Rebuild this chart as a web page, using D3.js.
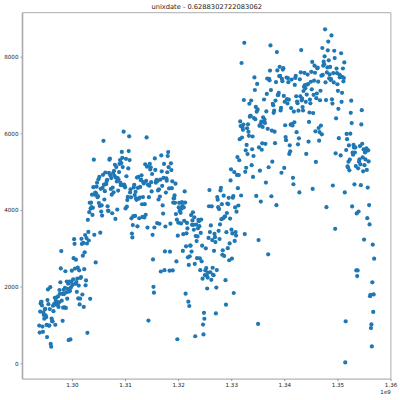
<!DOCTYPE html>
<html>
<head>
<meta charset="utf-8">
<script src="https://cdn.jsdelivr.net/npm/d3@7"></script>
<style>
  html, body { margin: 0; padding: 0; background: #fff; }
  svg text { font-family: "DejaVu Sans", sans-serif; fill: #222; }
</style>
</head>
<body>
<svg id="chart" width="400" height="400"></svg>
<script>
// ---- data: daily counts, one array per month ----
const startDate = "2011-01-01";
const cnt2011 = [
  [985,801,1349,1562,1600,1606,1510,959,822,1321,1263,1162,1406,1421,1248,1204,1000,683,1650,1927,1543,981,986,1416,1985,506,431,1167,1098,1096,1501],
  [1360,1526,1550,1708,1005,1623,1712,1530,1605,1538,1746,1472,1589,1913,1815,2115,2475,2927,1635,1812,1107,1450,1917,1807,1461,1969,2402,1446],
  [1851,2134,1685,1944,2077,605,1872,2133,1891,623,1977,2132,2417,2046,2056,2192,2744,3239,3117,2471,2077,2703,2121,1865,2210,2496,1693,2028,2425,1536,1685],
  [2227,2252,3249,3115,1795,2808,3141,1471,2455,2895,3348,2034,2162,3267,3126,795,3744,3429,3204,3944,4189,1683,4036,4191,4073,4400,3872,4058,4595,5312],
  [3351,4401,4451,2633,4433,4608,4714,4333,4362,4803,4182,4864,4105,3409,4553,3958,4123,3855,4575,4917,5805,4660,4274,4492,4978,4677,4679,4758,4788,4098,3982],
  [3974,4968,5312,5342,4906,4548,4833,4401,3915,4586,4966,4460,5020,4891,5180,3767,4844,5119,4744,4010,4835,4507,4790,4991,5202,5305,4708,4648,5225,5515],
  [5362,5119,4649,6043,4665,4629,4592,4040,5336,4881,4086,4258,4342,5084,5538,5923,5302,4458,4541,4332,3784,3387,3285,3606,3840,4590,4656,4390,3846,4475,4302],
  [4266,4845,3574,4576,4866,4294,3785,4326,4602,4780,4792,4905,4150,3820,4338,4725,4694,3805,4153,5191,3873,4758,5895,5130,3542,4661,1115,4334,4634,5204,5058],
  [5115,4727,4484,4940,3351,2710,1996,1842,3544,5345,5046,4713,4763,4785,3659,4760,4511,4274,4539,3641,4352,4795,2395,5423,5010,4630,4120,3907,4839,5202],
  [2429,2918,3570,4456,4826,4765,4985,5409,5511,5117,4563,2416,2913,3644,5217,5041,4570,4748,2424,4195,4304,4308,4381,4187,4687,3894,2659,3747,627,3331,3669],
  [4068,4186,3974,4046,3926,3649,4035,4205,4109,2933,3368,4067,3717,4486,4195,1817,3053,3392,3663,3520,2765,1607,2566,1495,2792,3068,3071,3867,2914,3613],
  [3727,3940,3614,3485,3811,2594,705,3322,3620,3190,2743,3310,3523,3740,3709,3577,2739,2431,3403,3750,2660,3068,2209,1011,754,1317,1162,2302,2423,2999,2485]
];
const cnt2012 = [
  [2294,1951,2236,2368,3272,4098,4521,3425,2376,3598,2177,4097,3214,2493,2311,2298,2935,3376,3292,3163,1301,1977,2432,4339,4270,4075,3456,4023,3243,3624,4509],
  [4579,3761,4151,2832,2947,3784,4375,2802,3830,3831,2169,1529,3422,3922,4169,3005,4154,4318,2689,3129,3777,4773,5062,3487,2732,3389,4322,4363,1834],
  [4990,3194,4066,3423,3333,3956,4916,5382,4569,4118,4911,5298,5847,6312,6192,4378,7836,5892,6153,6093,6230,6871,8362,3372,4996,5558,5102,5698,6133,5459,6235],
  [6041,5936,6772,6436,6457,6460,6857,5169,5585,5918,4862,5409,6398,7460,7132,6370,6691,4367,6565,7290,6624,1027,3214,5633,6196,5026,6233,4220,6304,5572],
  [5740,6169,6421,6296,6883,6359,6273,5728,4717,6572,7030,7429,6118,2843,5115,7424,7384,7639,8294,7129,4359,6073,5260,6770,6734,6536,6591,6043,5743,6855,7338],
  [4127,8120,7641,6998,7001,7055,7494,7736,7498,6598,6664,4972,7421,7363,7665,7702,6978,5099,6825,6211,5905,5823,7458,6891,6779,7442,7335,6879,5463,5687],
  [5531,6227,6660,7403,6241,6207,4840,4672,6569,6290,7264,7446,7499,6969,6031,6830,6786,5713,6591,5870,4459,7410,6966,7592,8173,6861,6904,6685,6597,7105,7216],
  [7580,7261,7175,6824,5464,7013,7273,7534,7286,5786,6299,6544,6883,6784,7347,7605,7148,7865,4549,6530,7006,7375,7765,7582,6053,5255,6917,7040,7697,7713,7350],
  [6140,5810,6034,6864,7112,6203,7504,5976,8227,7525,7767,7870,7804,8009,8714,7333,6869,4073,7591,7720,8167,8395,7907,7436,7538,7733,7393,7415,8555,6889],
  [6778,4639,7572,7328,8156,7965,3510,5478,6392,7691,7570,7282,7109,6639,5875,7534,7461,7509,5424,8090,6824,7058,7466,7693,7359,7444,7852,4459,22,1096,5566],
  [5986,5847,5138,5107,5259,5686,5035,5315,5992,6536,6852,6269,4094,5495,5445,5698,5629,4669,5499,5634,5146,2425,3910,2277,2424,5087,3959,5260,5323,5668],
  [5191,4649,6234,6606,5729,5375,5008,5582,3228,5170,5501,5319,5532,5611,5047,3786,4585,5557,5267,4128,3623,1749,1787,920,1013,441,2114,3095,1341,1796,2729]
];
const xTickValues = [1.30e9, 1.31e9, 1.32e9, 1.33e9, 1.34e9, 1.35e9, 1.36e9];
const xTickLabels = ["1.30", "1.31", "1.32", "1.33", "1.34", "1.35", "1.36"];
const yTickValues = [0, 2000, 4000, 6000, 8000];
const yTickLabels = ["0", "2000", "4000", "6000", "8000"];
const titleText = "unixdate - 0.6288302722083062";
const offsetText = "1e9";

// ---- build points ----
const counts = [].concat(...cnt2011, ...cnt2012);
const t0 = Date.UTC(2011, 0, 1) / 1000;
const points = counts.map((c, i) => ({ x: t0 + i * 86400, y: c }));

// ---- layout ----
const L = 22.5, R = 390.9, T = 12.7, B = 379.1;
const svg = d3.select("#chart");

const xExt = d3.extent(points, d => d.x);
const yExt = d3.extent(points, d => d.y);
const xPad = (xExt[1] - xExt[0]) * 0.05;
const yPad = (yExt[1] - yExt[0]) * 0.05;
const x = d3.scaleLinear().domain([xExt[0] - xPad, xExt[1] + xPad]).range([L, R]);
const y = d3.scaleLinear().domain([yExt[0] - yPad, yExt[1] + yPad]).range([B, T]);

// points
svg.append("g")
  .selectAll("circle")
  .data(points)
  .join("circle")
  .attr("cx", d => x(d.x))
  .attr("cy", d => y(d.y))
  .attr("r", 2.1)
  .attr("fill", "#1f77b4");

// axes
const xAxis = d3.axisBottom(x)
  .tickValues(xTickValues)
  .tickFormat((d, i) => xTickLabels[i])
  .tickSize(2)
  .tickPadding(2);
const yAxis = d3.axisLeft(y)
  .tickValues(yTickValues)
  .tickFormat((d, i) => yTickLabels[i])
  .tickSize(2)
  .tickPadding(2);

const gx = svg.append("g").attr("transform", `translate(0,${B})`).call(xAxis);
const gy = svg.append("g").attr("transform", `translate(${L},0)`).call(yAxis);
[gx, gy].forEach(g => {
  g.select(".domain").remove();
  g.selectAll(".tick line").attr("stroke", "#555").attr("stroke-width", 0.6);
  g.selectAll(".tick text").attr("font-size", 5.6).attr("fill", "#222")
    .style("font-family", "'DejaVu Sans', sans-serif");
});

// spines
svg.append("line").attr("x1", L).attr("x2", L).attr("y1", T).attr("y2", B)
  .attr("stroke", "#aaa").attr("stroke-width", 1.6);
svg.append("line").attr("x1", L).attr("x2", R).attr("y1", B).attr("y2", B)
  .attr("stroke", "#777").attr("stroke-width", 0.7);
svg.append("line").attr("x1", L).attr("x2", R).attr("y1", T).attr("y2", T)
  .attr("stroke", "#888").attr("stroke-width", 0.7);
svg.append("line").attr("x1", R).attr("x2", R).attr("y1", T).attr("y2", B)
  .attr("stroke", "#888").attr("stroke-width", 0.7);

// offset label
svg.append("text").attr("x", R).attr("y", 394).attr("text-anchor", "end")
  .attr("font-size", 5.6).text(offsetText);

// title
svg.append("text").attr("x", (L + R) / 2).attr("y", 9).attr("text-anchor", "middle")
  .attr("font-size", 6.7).text(titleText);
</script>
</body>
</html>
